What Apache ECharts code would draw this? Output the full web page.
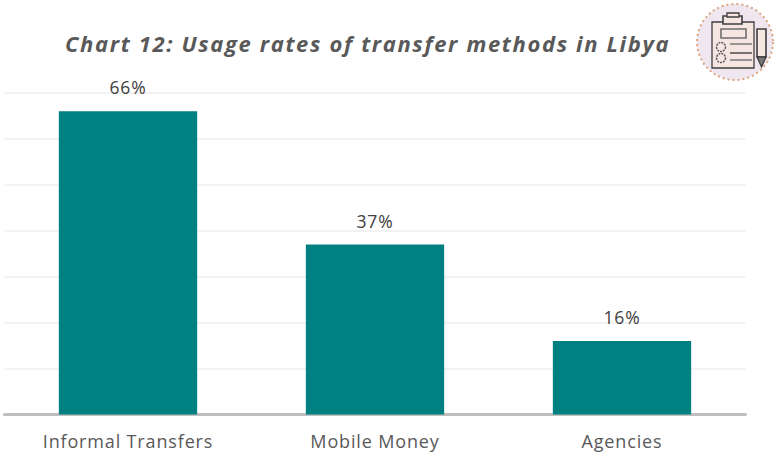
<!DOCTYPE html>
<html style="height: 100%" lang="en">
<head>
    <meta charset="UTF-8">
    <title>Chart 12</title>
    <style>
        /* the svg renderer leaves text to css, so the wide tracking can go here */
        #main text { letter-spacing: 0.85px; }
        #main text[style*="italic"] { letter-spacing: 1.64px; }
    </style>
</head>
<body style="height: 100%; margin: 0; background: #fff">
<div id="main" style="width: 774px; height: 453px"></div>
<script src="https://cdn.jsdelivr.net/npm/echarts@6/dist/echarts.min.js"></script>
<script type="text/javascript">
var categories = ['Informal Transfers', 'Mobile Money', 'Agencies'];
var usageRates = [66, 37, 16];
var axisMax = 70;
var axisStep = 10;

var myChart = echarts.init(document.getElementById('main'), null, { renderer: 'svg' });

// clipboard icon, top right
var ink = '#3f3f3f';
var icon = {
    type: 'group',
    x: 735,
    y: 42,
    silent: true,
    children: [
        { type: 'circle', shape: { r: 38 }, style: { fill: '#f0e6ef', stroke: '#dba67f', lineWidth: 2, lineDash: [2, 3] } },
        { type: 'rect', shape: { x: -23, y: -20, width: 42, height: 46 }, style: { fill: '#f6e6e2', stroke: ink, lineWidth: 1.3 } },
        { type: 'rect', shape: { x: -12, y: -26, width: 19, height: 8 }, style: { fill: '#f6e6e2', stroke: ink, lineWidth: 1.6 } },
        { type: 'rect', shape: { x: -8, y: -29, width: 12, height: 4 }, style: { fill: '#f6e6e2', stroke: ink, lineWidth: 1.3 } },
        { type: 'rect', shape: { x: -14, y: -13, width: 25, height: 9 }, style: { fill: 'none', stroke: '#6f6f6f', lineWidth: 1.6 } },
        { type: 'circle', shape: { cx: -14, cy: 5, r: 4.5 }, style: { fill: 'none', stroke: '#5a5a5a', lineWidth: 1.5, lineDash: [2, 1] } },
        { type: 'circle', shape: { cx: -14, cy: 16, r: 4.5 }, style: { fill: 'none', stroke: '#5a5a5a', lineWidth: 1.5, lineDash: [2, 1] } },
        { type: 'line', shape: { x1: -5, y1: 2, x2: 17, y2: 2 }, style: { stroke: '#666', lineWidth: 1.3 } },
        { type: 'line', shape: { x1: -5, y1: 11, x2: 17, y2: 11 }, style: { stroke: ink, lineWidth: 1.4 } },
        { type: 'line', shape: { x1: -5, y1: 18, x2: 17, y2: 18 }, style: { stroke: '#8a8a8a', lineWidth: 1.8 } },
        { type: 'rect', shape: { x: 22, y: -13, width: 9, height: 28 }, style: { fill: '#f6e6e2', stroke: ink, lineWidth: 1.6 } },
        { type: 'polygon', shape: { points: [[22, 15], [26.5, 25], [31, 15]] }, style: { fill: '#777', stroke: ink, lineWidth: 1.3 } }
    ]
};

var option = {
    backgroundColor: '#ffffff',
    animation: false,
    title: {
        text: 'Chart 12: Usage rates of transfer methods in Libya',
        left: 60,
        top: 27,
        textStyle: {
            color: '#595959',
            fontFamily: 'Open Sans',
            fontSize: 22,
            fontStyle: 'italic',
            fontWeight: 'bold'
        }
    },
    grid: { left: 4.5, right: 28.5, top: 93, bottom: 38.5 },
    xAxis: {
        type: 'category',
        data: categories,
        axisLine: { lineStyle: { color: '#bfbfbf', width: 3 } },
        axisTick: { show: false },
        axisLabel: { color: '#595959', fontFamily: 'Open Sans', fontSize: 18, margin: 17 }
    },
    yAxis: {
        type: 'value',
        min: 0,
        max: axisMax,
        interval: axisStep,
        axisLabel: { show: false },
        axisLine: { show: false },
        axisTick: { show: false },
        splitLine: { lineStyle: { color: '#f2f2f2', width: 2 } }
    },
    series: [{
        type: 'bar',
        data: usageRates,
        barWidth: '56%',
        itemStyle: { color: '#008080' },
        label: {
            show: true,
            position: 'top',
            distance: 15,
            formatter: '{c}%',
            color: '#404040',
            fontFamily: 'Open Sans',
            fontSize: 17.5
        }
    }],
    graphic: [icon]
};

myChart.setOption(option);
</script>
</body>
</html>
